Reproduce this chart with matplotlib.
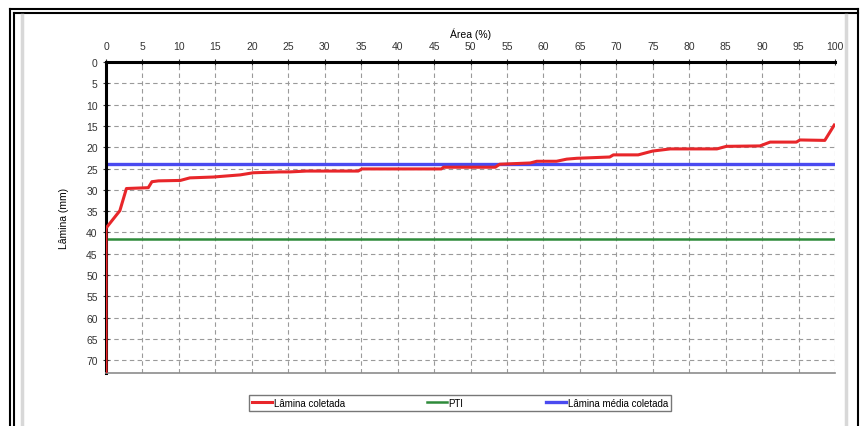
import matplotlib
matplotlib.use('Agg')
import matplotlib.pyplot as plt
from matplotlib.lines import Line2D
import numpy as np

area = [0, 0, 1.9, 2.8, 5.8, 6.3, 7.2, 10.2, 11.5, 14.7, 18.4, 20.2, 23.9, 25.2,
        27.5, 34.6, 35.1, 46.0, 46.3, 53.4, 54.0, 58.2, 59.1, 61.8, 63.2, 64.6,
        69.1, 69.6, 73.0, 75.0, 77.4, 83.8, 85.1, 89.7, 91.1, 94.7, 95.2, 98.6, 99.9]
lamina = [73, 39.0, 34.9, 29.7, 29.5, 28.1, 27.9, 27.8, 27.2, 27.0, 26.5, 26.0, 25.8, 25.8,
          25.6, 25.6, 25.1, 25.1, 24.7, 24.7, 24.0, 23.7, 23.3, 23.3, 22.8, 22.6,
          22.3, 21.8, 21.8, 20.9, 20.4, 20.4, 19.8, 19.7, 18.8, 18.8, 18.3, 18.4, 14.8]
pti = 41.6
lamina_media = 24.0

xticks = list(range(0, 101, 5))
yticks = list(range(0, 71, 5))

plt.rcParams['font.family'] = ['Liberation Sans', 'DejaVu Sans']

fig = plt.figure(figsize=(8.63, 4.27), dpi=100)
W, H = 863, 427
ax = fig.add_axes([106 / W, 1 - 374 / H, (835 - 106) / W, (374 - 63) / H])

ax.plot(area, lamina, color='#e8262a', lw=2.2, label='Lâmina coletada', zorder=3)
ax.axhline(pti, color='#2e8b3a', lw=1.8, label='PTI', zorder=2)
ax.axhline(lamina_media, color='#4a4af0', lw=2.4, label='Lâmina média coletada', zorder=2)

ax.set_xlim(0, 100)
ax.set_ylim(73, 0)
ax.set_xticks(xticks)
ax.set_yticks(yticks)
ax.xaxis.tick_top()
ax.xaxis.set_label_position('top')
ax.tick_params(axis='both', labelsize=7.5, direction='inout', length=4, width=0.8,
               colors='#333333', pad=4)
ax.tick_params(axis='x', pad=6)
ax.set_xlabel('Área (%)', fontsize=7.5, labelpad=3)
ax.set_ylabel('Lâmina (mm)', fontsize=7.5, labelpad=12)

ax.grid(True, ls=(0, (4, 3)), color='#9a9a9a', lw=0.8)
ax.set_axisbelow(True)
for s in ['top', 'left']:
    ax.spines[s].set_color('black')
    ax.spines[s].set_linewidth(2.2)
ax.spines['bottom'].set_color('#8c8c8c')
ax.spines['bottom'].set_linewidth(1.2)
ax.spines['right'].set_visible(False)

leg = ax.legend(loc='upper center', bbox_to_anchor=((460 - 106) / (835 - 106), -0.07),
                ncol=3, fontsize=7, frameon=True, fancybox=False, edgecolor='#555555',
                handlelength=2.0, handletextpad=0.2, columnspacing=8.5,
                borderpad=0.3, borderaxespad=0)
leg.get_frame().set_linewidth(1.0)

# outer window frame
def px_line(x0, y0, x1, y1, **kw):
    fig.add_artist(Line2D([x0 / W, x1 / W], [1 - y0 / H, 1 - y1 / H], **kw))

px_line(10, 10, 858, 10, color='black', lw=1.5)
px_line(14, 14, 858, 14, color='black', lw=1.5)
px_line(10, 10, 10, 427, color='black', lw=1.5)
px_line(14, 14, 14, 427, color='black', lw=1.5)
px_line(858, 10, 858, 427, color='black', lw=1.5)
px_line(22, 16, 22, 427, color='#d8d8d8', lw=2.5)
px_line(846, 16, 846, 427, color='#d8d8d8', lw=2.5)

fig.savefig('out.png', dpi=100)
